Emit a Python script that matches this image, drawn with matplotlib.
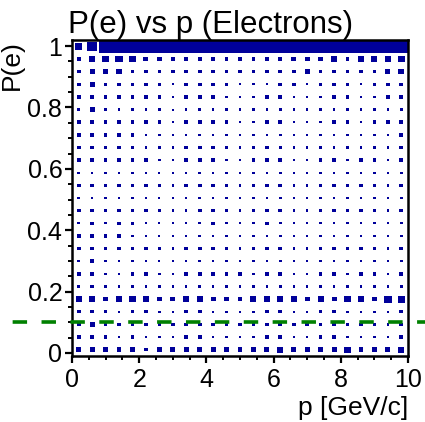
import numpy as np
import matplotlib.pyplot as plt
from matplotlib.patches import Rectangle
from matplotlib import transforms

plt.rcParams['font.family'] = ['Liberation Sans', 'DejaVu Sans']

# Histogram binning: 25 bins in p, 25 bins in P(e)
p_min, p_max, n_p = 0.0, 10.0, 25
pe_min, pe_max, n_pe = -0.01, 1.02, 25

# Cell contents, one string per P(e) row from top to bottom, one char per p bin.
# Digits (base 36) give sqrt of the content, 'F' marks a saturated cell.
cell_rows = [
    "68" + "F" * 23,
    "3566544333" + "333" + "333444535556",
    "3445333333" + "333" + "333343333345",
    "3433333233" + "332" + "223323332333",
    "3333333233" + "322" + "233222332233",
    "2432222122" + "222" + "222222222222",
    "3333333233" + "332" + "233222332333",
    "3333322222" + "222" + "222222222223",
    "3333322233" + "322" + "232222222223",
    "3333332233322" + "333223323323",
    "2222221122211" + "222112212212",
    "3333332233322" + "333223323323",
    "2222221112211" + "222112212212",
    "3333332223322" + "333223323323",
    "2323321122321" + "232112212212",
    "3333221122211" + "222112212212",
    "3333332233322" + "333223323323",
    "2322221122211" + "222222222222",
    "332233223333" + "3" + "233223323323",
    "2322222222" + "222" + "222222222222",
    "554555445544" + "4" + "555545455466",
    "33323322332" + "22" + "233223322223",
    "3433333333" + "333" + "333333323323",
    "3332322233" + "222" + "233223322223",
    "444443444444" + "4" + "445444454445",
]
z_max = 11.0 ** 2
cut_value = 0.1

content = np.array([[z_max if ch == 'F' else int(ch, 36) ** 2 for ch in row]
                    for row in cell_rows[::-1]])

p_edges = np.linspace(p_min, p_max, n_p + 1)
pe_edges = np.linspace(pe_min, pe_max, n_pe + 1)

fig = plt.figure(figsize=(4.25, 4.22), dpi=100)
ax = fig.add_axes([0.1694, 0.1564, 0.7906, 0.7488])

box_color = '#00009a'
for j in range(n_pe):
    for i in range(n_p):
        z = content[j, i]
        if z <= 0:
            continue
        # keep the smallest boxes visible
        frac = max(np.sqrt(min(z / z_max, 1.0)), 0.16)
        w = (p_edges[i + 1] - p_edges[i]) * frac
        h = (pe_edges[j + 1] - pe_edges[j]) * frac
        xc = 0.5 * (p_edges[i] + p_edges[i + 1])
        yc = 0.5 * (pe_edges[j] + pe_edges[j + 1])
        ax.add_patch(Rectangle((xc - w / 2, yc - h / 2), w, h,
                               facecolor=box_color, edgecolor='none', lw=0))

# electron probability cut across the whole canvas
trans = transforms.blended_transform_factory(fig.transFigure, ax.transData)
ax.plot([0, 1], [cut_value, cut_value], transform=trans, clip_on=False,
        color='#008000', lw=2.6, linestyle=(4.5, (4.0, 4.0)), zorder=5)

ax.set_xlim(p_min, p_max)
ax.set_ylim(pe_min, pe_max)
ax.set_xticks([0, 2, 4, 6, 8, 10])
ax.set_xticklabels(['0', '2', '4', '6', '8', '10'])
ax.set_xticks(np.arange(0, 10.01, 0.5), minor=True)
ax.set_yticks([0, 0.2, 0.4, 0.6, 0.8, 1.0])
ax.set_yticklabels(['0', '0.2', '0.4', '0.6', '0.8', '1'])
ax.set_yticks(np.arange(0, 1.001, 0.05), minor=True)
ax.tick_params(which='major', direction='out', length=5, width=1.6,
               labelsize=18, pad=2)
ax.tick_params(axis='x', which='major', pad=4)
ax.tick_params(which='minor', direction='out', length=3, width=1.4)
for s in ax.spines.values():
    s.set_linewidth(1.8)

fig.text(0.16, 1 - 33 / 422, 'P(e) vs p (Electrons)', fontsize=22.5,
         ha='left', va='baseline')
fig.text(408 / 425, 1 - 415 / 422, 'p [GeV/c]', fontsize=19,
         ha='right', va='baseline')
fig.text(24 / 425, 1 - 40 / 422, 'P(e)', fontsize=19, rotation=90,
         ha='right', va='top')

fig.savefig('out.png', dpi=100)
